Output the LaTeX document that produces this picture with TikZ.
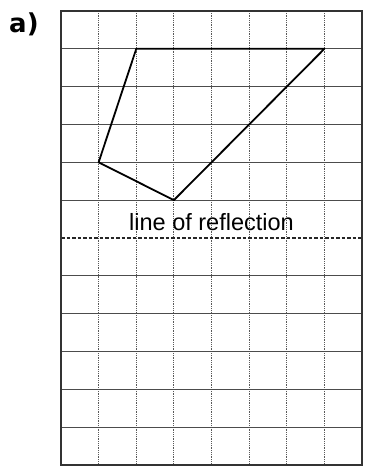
\documentclass[tikz,border=0pt]{standalone}
\usepackage{fontspec}
\setmainfont{Liberation Sans}
\newfontfamily\labelfont{DejaVu Sans}
\begin{document}
\begin{tikzpicture}[x=1pt,y=-1pt,
  vline/.style={gray!70!black,line width=0.8pt,densely dotted},
  hline/.style={gray!60!black,line width=0.9pt},
  reflline/.style={black!85,line width=1.1pt,dash pattern=on 3.5pt off 2pt},
  frameline/.style={black!80,line width=1.4pt},
  shapeline/.style={black,line width=1.8pt,line join=round},
  txt/.style={inner sep=0pt,font=\fontsize{23.5}{26}\selectfont}]
\useasboundingbox (0,0) rectangle (369,476);
\node[anchor=base west,inner sep=0pt,font=\labelfont\bfseries\fontsize{26}{28}\selectfont] (lab) at (9,33) {a)};
\begin{scope}[shift={(61,11)},x=37.625pt,y=-37.83pt]
  \foreach \i in {1,...,7} \draw[vline] (\i,0) -- (\i,12);
  \foreach \j in {1,...,5,7,8,9,10,11} \draw[hline] (0,\j) -- (8,\j);
  \draw[reflline] (0,6) -- (8,6);
  \draw[frameline] (0,0) rectangle (8,12);
  \coordinate (A) at (2,1);
  \coordinate (B) at (7,1);
  \coordinate (C) at (3,5);
  \coordinate (D) at (1,4);
  \draw[shapeline] (A) -- (B) -- (C) -- (D) -- cycle;
  \node[txt,anchor=base] (refl) at (4,5.79) {line of reflection};
\end{scope}
\end{tikzpicture}
\end{document}
